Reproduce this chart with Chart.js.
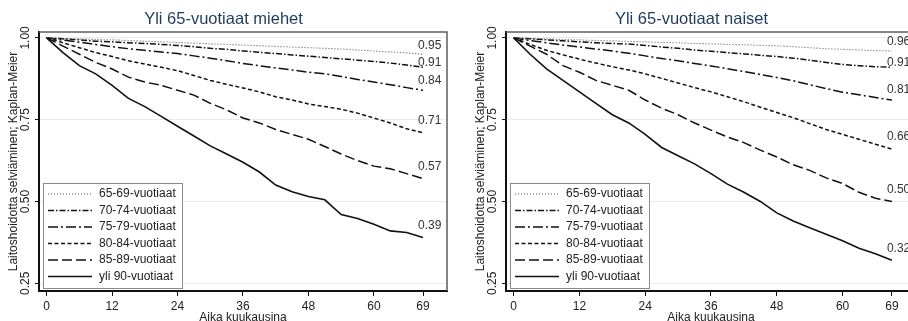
<!DOCTYPE html>
<html>
<head>
<meta charset="utf-8">
<script src="https://cdn.jsdelivr.net/npm/chart.js@4.4.1/dist/chart.umd.min.js"></script>
<style>
  html, body { margin: 0; padding: 0; background: #fff; overflow: hidden; width: 908px; height: 321px; }
  .panel { position: absolute; top: 0; }
  #menBox { left: 0; }
  #womenBox { left: 467px; }
</style>
</head>
<body>
<div class="panel" id="menBox"><canvas id="men" width="454" height="330"></canvas></div>
<div class="panel" id="womenBox"><canvas id="women" width="456" height="330"></canvas></div>
<script>
const FONT = "'Liberation Sans', Arial, sans-serif";

// follow-up time in months
const months = [0, 3, 6, 9, 12, 15, 18, 21, 24, 27, 30, 33, 36, 39, 42, 45, 48, 51, 54, 57, 60, 63, 66, 69];
const ageGroups = ["65-69-vuotiaat", "70-74-vuotiaat", "75-79-vuotiaat", "80-84-vuotiaat", "85-89-vuotiaat", "yli 90-vuotiaat"];
const xTicks = [0, 12, 24, 36, 48, 60, 69];
const yTicks = [0.25, 0.5, 0.75, 1.0];

// miehet
const men6569 = [1.00, 0.998, 0.997, 0.995, 0.994, 0.992, 0.990, 0.988, 0.986, 0.984, 0.982, 0.980, 0.978, 0.976, 0.974, 0.972, 0.970, 0.968, 0.966, 0.963, 0.960, 0.957, 0.954, 0.95];
const men7074 = [1.00, 0.997, 0.994, 0.990, 0.988, 0.985, 0.983, 0.980, 0.977, 0.973, 0.968, 0.965, 0.960, 0.956, 0.952, 0.948, 0.944, 0.940, 0.936, 0.932, 0.928, 0.923, 0.917, 0.91];
const men7579 = [1.00, 0.993, 0.987, 0.980, 0.973, 0.967, 0.962, 0.957, 0.952, 0.945, 0.938, 0.930, 0.922, 0.915, 0.908, 0.902, 0.895, 0.890, 0.882, 0.873, 0.865, 0.857, 0.848, 0.84];
const men8084 = [1.00, 0.985, 0.970, 0.955, 0.943, 0.930, 0.920, 0.910, 0.900, 0.885, 0.870, 0.858, 0.847, 0.835, 0.820, 0.810, 0.798, 0.790, 0.782, 0.770, 0.755, 0.740, 0.722, 0.71];
const men8589 = [1.00, 0.975, 0.950, 0.925, 0.905, 0.880, 0.865, 0.855, 0.840, 0.825, 0.800, 0.780, 0.755, 0.740, 0.720, 0.705, 0.690, 0.668, 0.645, 0.625, 0.608, 0.600, 0.585, 0.57];
const men90 = [1.00, 0.955, 0.915, 0.890, 0.855, 0.815, 0.790, 0.760, 0.730, 0.700, 0.670, 0.645, 0.620, 0.590, 0.550, 0.530, 0.515, 0.505, 0.460, 0.448, 0.430, 0.410, 0.405, 0.39];

// naiset
const women6569 = [1.00, 0.998, 0.997, 0.995, 0.994, 0.992, 0.991, 0.989, 0.988, 0.986, 0.985, 0.983, 0.982, 0.980, 0.979, 0.977, 0.976, 0.973, 0.970, 0.967, 0.965, 0.963, 0.961, 0.96];
const women7074 = [1.00, 0.997, 0.994, 0.991, 0.988, 0.985, 0.983, 0.981, 0.977, 0.972, 0.968, 0.963, 0.959, 0.955, 0.951, 0.947, 0.943, 0.938, 0.932, 0.925, 0.919, 0.915, 0.912, 0.91];
const women7579 = [1.00, 0.992, 0.985, 0.978, 0.972, 0.966, 0.960, 0.953, 0.945, 0.937, 0.930, 0.922, 0.914, 0.906, 0.897, 0.888, 0.879, 0.869, 0.857, 0.845, 0.834, 0.826, 0.818, 0.81];
const women8084 = [1.00, 0.980, 0.962, 0.948, 0.935, 0.923, 0.912, 0.902, 0.890, 0.876, 0.862, 0.848, 0.835, 0.820, 0.805, 0.788, 0.772, 0.756, 0.738, 0.720, 0.705, 0.690, 0.675, 0.66];
const women8589 = [1.00, 0.975, 0.950, 0.915, 0.895, 0.870, 0.855, 0.840, 0.810, 0.785, 0.765, 0.740, 0.718, 0.697, 0.680, 0.657, 0.636, 0.612, 0.595, 0.572, 0.555, 0.528, 0.510, 0.50];
const women90 = [1.00, 0.950, 0.905, 0.870, 0.835, 0.800, 0.765, 0.740, 0.705, 0.665, 0.640, 0.615, 0.585, 0.553, 0.528, 0.500, 0.465, 0.440, 0.420, 0.400, 0.380, 0.357, 0.340, 0.32];

// line pattern per age group, plus how far the end value sits above the curve
const lineStyles = [
  { dash: [1, 2], width: 1.1, color: "#555", lift: 9 },
  { dash: [6, 2, 1.5, 2], width: 1.5, color: "#111", lift: 5 },
  { dash: [10, 3, 2, 3], width: 1.5, color: "#111", lift: 10 },
  { dash: [4, 2.5], width: 1.5, color: "#111", lift: 12 },
  { dash: [10, 4], width: 1.5, color: "#111", lift: 12 },
  { dash: [], width: 1.6, color: "#111", lift: 12 },
];

const extras = {
  id: "extras",
  afterDraw(chart) {
    const { ctx, chartArea: a, scales: { x, y } } = chart;
    ctx.save();

    // top and right edge of the plot region
    ctx.setLineDash([]);
    ctx.strokeStyle = "#5c5c5c";
    ctx.lineWidth = 1.5;
    ctx.beginPath();
    ctx.moveTo(a.left, a.top);
    ctx.lineTo(a.right, a.top);
    ctx.lineTo(a.right, a.bottom);
    ctx.stroke();

    // rotated y tick labels
    ctx.font = "12px " + FONT;
    ctx.fillStyle = "#222";
    ctx.textAlign = "center";
    ctx.textBaseline = "middle";
    yTicks.forEach((v) => {
      ctx.save();
      ctx.translate(a.left - 13, y.getPixelForValue(v));
      ctx.rotate(-Math.PI / 2);
      ctx.fillText(v.toFixed(2), 0, 0);
      ctx.restore();
    });

    // value at the end of each curve
    ctx.textAlign = "left";
    ctx.fillStyle = "#333";
    chart.data.datasets.forEach((ds) => {
      const last = ds.data[ds.data.length - 1];
      ctx.fillText(last.y.toFixed(2), x.getPixelForValue(last.x) - 5, y.getPixelForValue(last.y) - ds.labelLift);
    });

    // legend box in the lower left corner
    const lw = 139, lh = 105;
    const lx = a.left + 4, ly = a.bottom - 3 - lh;
    ctx.fillStyle = "#fff";
    ctx.fillRect(lx, ly, lw, lh);
    ctx.strokeStyle = "#8a8a8a";
    ctx.lineWidth = 1;
    ctx.strokeRect(lx + 0.5, ly + 0.5, lw, lh);
    chart.data.datasets.forEach((ds, i) => {
      const cy = ly + 11 + i * 16.5;
      ctx.strokeStyle = ds.borderColor;
      ctx.lineWidth = ds.borderWidth;
      ctx.setLineDash(ds.borderDash);
      ctx.beginPath();
      ctx.moveTo(lx + 5, cy);
      ctx.lineTo(lx + 49, cy);
      ctx.stroke();
      ctx.setLineDash([]);
      ctx.fillStyle = "#222";
      ctx.fillText(ds.label, lx + 56, cy);
    });

    ctx.restore();
  },
};

function makeChart(id, title, series) {
  const datasets = series.map((vals, i) => ({
    label: ageGroups[i],
    data: months.map((m, k) => ({ x: m, y: vals[k] })),
    borderColor: lineStyles[i].color,
    borderWidth: lineStyles[i].width,
    borderDash: lineStyles[i].dash,
    labelLift: lineStyles[i].lift,
    pointRadius: 0,
    tension: 0,
    fill: false,
  }));

  return new Chart(document.getElementById(id), {
    type: "line",
    data: { datasets },
    options: {
      responsive: false,
      animation: false,
      events: [],
      layout: { padding: { left: 0, right: 7, top: 0, bottom: 0 } },
      plugins: {
        legend: { display: false },
        tooltip: { enabled: false },
        title: {
          display: true,
          text: title,
          color: "#1f3b5c",
          font: { family: FONT, size: 16.5, weight: "normal", lineHeight: 1.2 },
          padding: { top: 10, bottom: 2.2 },
        },
      },
      scales: {
        x: {
          type: "linear",
          min: -1.4,
          max: 73.4,
          afterBuildTicks: (s) => { s.ticks = xTicks.map((v) => ({ value: v })); },
          afterFit: (s) => { s.height = 39; },
          ticks: { color: "#222", font: { family: FONT, size: 12 }, padding: 3, maxRotation: 0, autoSkip: false },
          grid: { drawOnChartArea: false, drawTicks: true, tickLength: 5, tickColor: "#111" },
          border: { color: "#111", width: 2 },
          title: {
            display: true,
            text: "Aika kuukausina",
            color: "#222",
            font: { family: FONT, size: 12 },
            padding: { top: 0, bottom: 5 },
          },
        },
        y: {
          min: 0.2263,
          max: 1.018,
          afterBuildTicks: (s) => { s.ticks = yTicks.map((v) => ({ value: v })); },
          afterFit: (s) => { s.width = 39; },
          ticks: { display: false },
          grid: { color: "#e4eef0", lineWidth: 1, drawTicks: true, tickLength: 4, tickColor: "#111" },
          border: { color: "#111", width: 2 },
          title: {
            display: true,
            text: "Laitoshoidotta selviäminen; Kaplan-Meier",
            color: "#222",
            font: { family: FONT, size: 12 },
            padding: { top: 6, bottom: 0 },
          },
        },
      },
    },
    plugins: [extras],
  });
}

makeChart("men", "Yli 65-vuotiaat miehet", [men6569, men7074, men7579, men8084, men8589, men90]);
makeChart("women", "Yli 65-vuotiaat naiset", [women6569, women7074, women7579, women8084, women8589, women90]);
</script>
</body>
</html>
